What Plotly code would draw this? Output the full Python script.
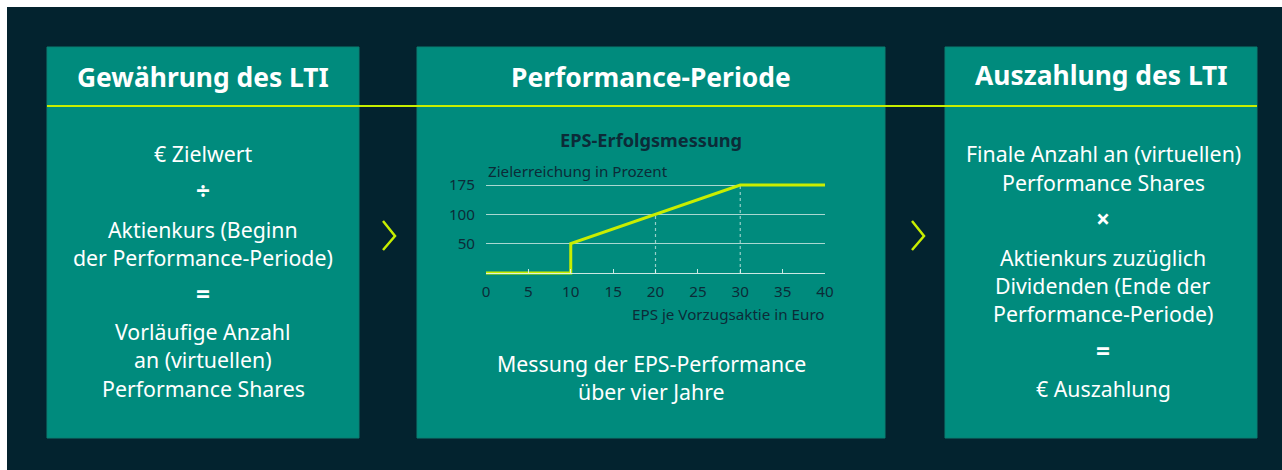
import plotly.graph_objects as go

W, H = 1282, 470

# ---- data ----
eps_x = [0, 10, 10, 20, 30, 40]
target_pct = ["0", "0", "50", "100", "175", "175"]
pct_levels = ["0", "50", "100", "175"]
pct_ticks = ["50", "100", "175"]
x_ticks = [0, 5, 10, 15, 20, 25, 30, 35, 40]
guide_x = [20, 30]
guide_top = ["100", "175"]

headers = ["Gewährung des LTI", "Performance-Periode", "Auszahlung des LTI"]
box1_lines = ["€ Zielwert", "÷", "Aktienkurs (Beginn", "der Performance-Periode)", "=",
              "Vorläufige Anzahl", "an (virtuellen)", "Performance Shares"]
box2_lines = ["Messung der EPS-Performance", "über vier Jahre"]
box3_lines = ["Finale Anzahl an (virtuellen)", "Performance Shares", "×", "Aktienkurs zuzüglich",
              "Dividenden (Ende der", "Performance-Periode)", "=", "€ Auszahlung"]
operators = {"÷", "=", "×"}
chart_title = "EPS-Erfolgsmessung"
y_title = "Zielerreichung in Prozent"
x_title = "EPS je Vorzugsaktie in Euro"

# ---- styles ----
DARK = "#03232F"
TEAL = "#008B7D"
TEAL_EDGE = "#0A7F73"
LIME = "#C8EE00"
NAVY_TXT = "#0C2B38"
FONT = "Noto Sans"


def px(x):
    return x / W


def py(y):
    return 1 - y / H


fig = go.Figure()

# dotted guides
for gx, gt in zip(guide_x, guide_top):
    fig.add_trace(go.Scatter(x=[gx, gx], y=["0", gt], mode="lines",
                             line=dict(color="rgba(215,238,234,0.7)", width=1.2, dash="dot"),
                             hoverinfo="skip", showlegend=False))
# EPS line
fig.add_trace(go.Scatter(x=eps_x, y=target_pct, mode="lines",
                         line=dict(color=LIME, width=3), hoverinfo="skip", showlegend=False))

pad = 0.15
y_bottom_px = 273 + pad * 29.3
y_top_px = 185 - pad * 29.3

shapes = []
# dark background (white page margin at top / left)
shapes.append(dict(type="rect", xref="paper", yref="paper", x0=px(7), x1=1, y0=0, y1=py(7),
                   fillcolor=DARK, line=dict(width=0), layer="below"))
# boxes
for x0, x1 in [(47, 359), (417, 885), (945, 1257)]:
    shapes.append(dict(type="rect", xref="paper", yref="paper", x0=px(x0), x1=px(x1), y0=py(438), y1=py(47),
                       fillcolor=TEAL, line=dict(width=1, color=TEAL_EDGE), layer="below"))
# lime horizontal line
shapes.append(dict(type="line", xref="paper", yref="paper", x0=px(47), x1=px(1257), y0=py(106), y1=py(106),
                   line=dict(color=LIME, width=2), layer="below"))
# chevrons
for cx in [383, 912]:
    path = f"M {px(cx)},{py(221)} L {px(cx + 12)},{py(236)} L {px(cx)},{py(250)}"
    shapes.append(dict(type="path", xref="paper", yref="paper", path=path,
                       line=dict(color=LIME, width=2.5), layer="above"))

annotations = []


def add_text(txt, x, y, size, color="white", bold=False, xanchor="center"):
    t = f"<b>{txt}</b>" if bold else txt
    annotations.append(dict(text=t, x=px(x), y=py(y), xref="paper", yref="paper", showarrow=False,
                            xanchor=xanchor, yanchor="middle",
                            font=dict(family=FONT, size=size, color=color)))


HEAD = 26.4
add_text(headers[0], 203, 77, HEAD, bold=True)
add_text(headers[1], 651, 77, HEAD, bold=True)
add_text(headers[2], 1101, 75, HEAD, bold=True)

BODY = 21.3
OPS = 24.5
for t, y in zip(box1_lines, [153, 190, 229, 257, 293, 331, 359, 388]):
    add_text(t, 203, y, OPS if t in operators else BODY, bold=t in operators)
for t, y in zip(box3_lines, [153, 182, 218, 257, 285, 313, 350, 388]):
    add_text(t, 1103, y, OPS if t in operators else BODY, bold=t in operators)
for t, y in zip(box2_lines, [363, 391]):
    add_text(t, 651, y, BODY)

add_text(chart_title, 651, 140, 18.2, color=NAVY_TXT, bold=True)
add_text(y_title, 486, 171, 15.2, color=NAVY_TXT, xanchor="left")
add_text(x_title, 827, 314, 15.2, color=NAVY_TXT, xanchor="right")

fig.update_layout(
    width=W, height=H,
    margin=dict(l=0, r=0, t=0, b=0, pad=0, autoexpand=False),
    paper_bgcolor="white",
    plot_bgcolor="rgba(0,0,0,0)",
    shapes=shapes,
    annotations=annotations,
    showlegend=False,
    xaxis=dict(domain=[px(486), px(825)], range=[0, 40], tickmode="array", tickvals=x_ticks,
               showgrid=False, zeroline=False, showline=True, linecolor="rgba(225,242,238,0.9)", linewidth=1,
               ticks="inside", ticklen=4, tickcolor="rgba(225,242,238,0.9)", tickwidth=1,
               anchor="free", position=py(273), automargin=False,
               tickfont=dict(family=FONT, size=15.2, color=NAVY_TXT), ticklabelstandoff=5),
    yaxis=dict(domain=[py(y_bottom_px), py(y_top_px)], type="category", categoryorder="array",
               categoryarray=pct_levels, range=[-pad, 3 + pad], automargin=False,
               tickmode="array", tickvals=pct_ticks, ticktext=pct_ticks,
               showgrid=True, gridcolor="rgba(225,242,238,0.75)", gridwidth=1,
               zeroline=False, showline=False, ticks="",
               tickfont=dict(family=FONT, size=15.2, color=NAVY_TXT), ticklabelstandoff=10),
)

css_js = (
    "var s=document.createElement('style');"
    "s.textContent='html,body{margin:0!important;padding:0!important;overflow:hidden!important;}';"
    "document.head.appendChild(s);"
)
fig.write_html("out.html", config={"displayModeBar": False, "staticPlot": True}, post_script=css_js)
